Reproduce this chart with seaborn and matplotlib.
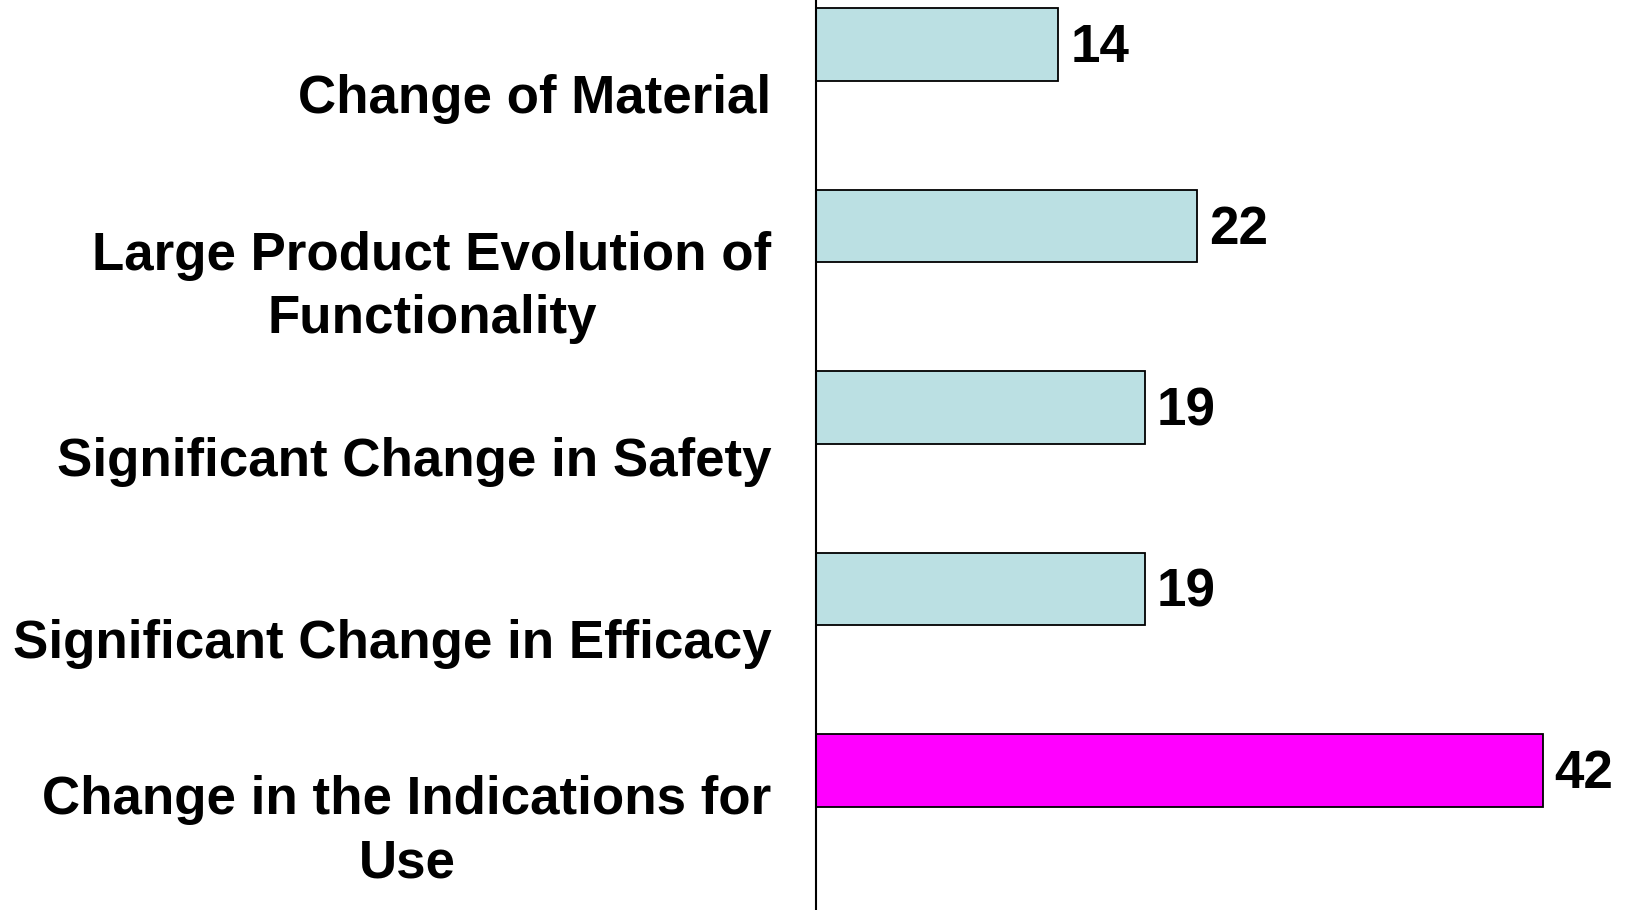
import matplotlib
matplotlib.use("Agg")
import matplotlib.pyplot as plt
import seaborn as sns
import numpy as np
import pandas as pd

categories = [
    "Change of Material",
    "Large Product Evolution of\nFunctionality",
    "Significant Change in Safety",
    "Significant Change in Efficacy",
    "Change in the Indications for\nUse",
]
values = [14, 22, 19, 19, 42]
bar_colors = ["#BBE0E3", "#BBE0E3", "#BBE0E3", "#BBE0E3", "#FF00FF"]

sns.set_theme(style="white")
plt.rcParams["font.family"] = ["Liberation Sans", "DejaVu Sans"]
plt.rcParams["text.color"] = "black"
plt.rcParams["ytick.color"] = "black"

df = pd.DataFrame({"cat": categories, "val": values})

fig = plt.figure(figsize=(16.29, 9.10), dpi=100)
ax = fig.add_axes([816 / 1629, 0.0, 1 - 816 / 1629, 1.0])

bw = 0.40
sns.barplot(data=df, y="cat", x="val", hue="cat", palette=bar_colors, legend=False,
            orient="h", width=bw, saturation=1, edgecolor="black", linewidth=1.3, ax=ax)

# bars sit at the top of each category band; labels centred in the band
ax.set_yticks(np.arange(len(categories)) + 0.5 - bw / 2 - 0.03)
ax.set_yticklabels(categories, fontsize=38.1, fontweight="bold", multialignment="center",
                   linespacing=1.34, color="black")
ax.tick_params(axis="y", length=0, pad=32)
ax.set_ylabel("")
ax.set_xlabel("")
ax.set_xticks([])

top = -bw / 2 - 8.3 / 181.5
ax.set_ylim(top + 910 / 181.5, top)
ax.set_xlim(0, (1629 - 816) / 17.3)

for s in ["top", "right", "bottom"]:
    ax.spines[s].set_visible(False)
ax.spines["left"].set_color("black")
ax.spines["left"].set_linewidth(1.5)

for i, v in enumerate(values):
    ax.text(v + 0.7, i + 0.02, str(v), va="center", ha="left", fontsize=38.1,
            fontweight="bold", color="black")

fig.savefig("out.png", dpi=100, facecolor="white")
